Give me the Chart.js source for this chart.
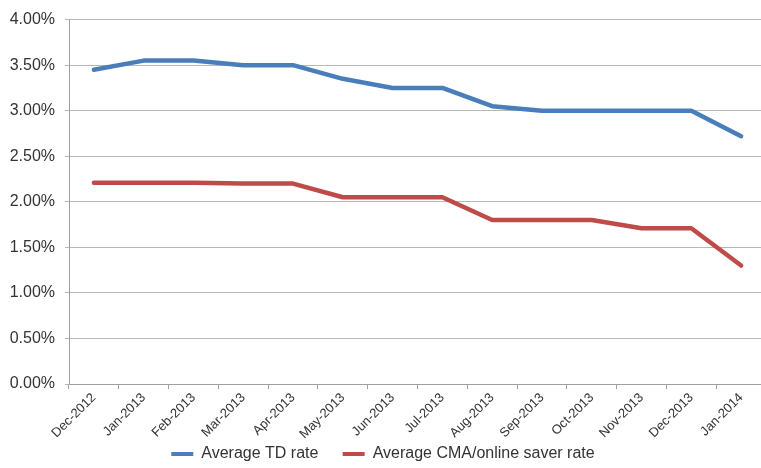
<!DOCTYPE html>
<html>
<head>
<meta charset="utf-8">
<script src="https://cdn.jsdelivr.net/npm/chart.js@4/dist/chart.umd.min.js"></script>
<style>
  html, body { margin: 0; padding: 0; background: #ffffff; overflow: hidden; }
  #wrap { width: 766px; height: 468px; }
</style>
</head>
<body>
<div id="wrap"><canvas id="rates" width="766" height="468"></canvas></div>
<script>
// Monthly categories
const months = ['Dec-2012', 'Jan-2013', 'Feb-2013', 'Mar-2013', 'Apr-2013', 'May-2013', 'Jun-2013',
                'Jul-2013', 'Aug-2013', 'Sep-2013', 'Oct-2013', 'Nov-2013', 'Dec-2013', 'Jan-2014'];

// Average rates, in percent
const tdRate  = [3.45, 3.55, 3.55, 3.50, 3.50, 3.35, 3.25, 3.25, 3.05, 3.00, 3.00, 3.00, 3.00, 2.72];
const cmaRate = [2.21, 2.21, 2.21, 2.20, 2.20, 2.05, 2.05, 2.05, 1.80, 1.80, 1.80, 1.71, 1.71, 1.30];

const seriesNames = ['Average TD rate', 'Average CMA/online saver rate'];

const FONT = '"Liberation Sans", Arial, sans-serif';
const TEXT = '#333333';
const BLUE = '#4a7ebb';
const RED = '#be4b48';

new Chart(document.getElementById('rates'), {
  type: 'line',
  data: {
    labels: months,
    datasets: [
      { label: seriesNames[0], data: tdRate, borderColor: BLUE, backgroundColor: BLUE },
      { label: seriesNames[1], data: cmaRate, borderColor: RED, backgroundColor: RED }
    ]
  },
  options: {
    responsive: false,
    animation: false,
    devicePixelRatio: 1,
    // slightly negative bottom padding lets the legend sit close to the lower edge
    layout: { padding: { top: 11, right: 0, bottom: -4, left: 0 } },
    elements: {
      line: { borderWidth: 4.5, tension: 0, borderCapStyle: 'round', borderJoinStyle: 'round', fill: false },
      point: { radius: 0, hoverRadius: 0 }
    },
    scales: {
      x: {
        offset: true,
        grid: { display: true, offset: true, drawOnChartArea: false, drawTicks: true, tickLength: 5, color: '#a0a0a0' },
        border: { display: true, color: '#a0a0a0', width: 1 },
        ticks: {
          autoSkip: false, minRotation: 45, maxRotation: 45, padding: 1,
          color: TEXT, font: { family: FONT, size: 13 }
        },
        afterFit: (s) => { s.height = 60; }
      },
      y: {
        min: 0, max: 4,
        grid: { color: '#b8b8b8', drawTicks: true, tickLength: 4, lineWidth: 1 },
        border: { display: true, color: '#a0a0a0', width: 1 },
        ticks: {
          stepSize: 0.5, padding: 10, color: TEXT,
          font: { family: FONT, size: 16 },
          callback: (v) => v.toFixed(2) + '%'
        },
        afterFit: (s) => { s.width = 69; }
      }
    },
    plugins: {
      title: { display: false },
      tooltip: { enabled: false },
      legend: {
        position: 'bottom',
        labels: {
          color: TEXT,
          font: { family: FONT, size: 16 },
          boxWidth: 22, boxHeight: 4, padding: 2,
          // trailing no-break spaces widen the gap between the two entries
          generateLabels: (chart) => chart.data.datasets.map((ds, i) => ({
            text: i === 0 ? ds.label + '\u00a0\u00a0\u00a0\u00a0\u00a0' : ds.label,
            fillStyle: ds.borderColor, strokeStyle: ds.borderColor,
            lineWidth: 0, hidden: false, datasetIndex: i, fontColor: TEXT
          }))
        }
      }
    }
  }
});
</script>
</body>
</html>
